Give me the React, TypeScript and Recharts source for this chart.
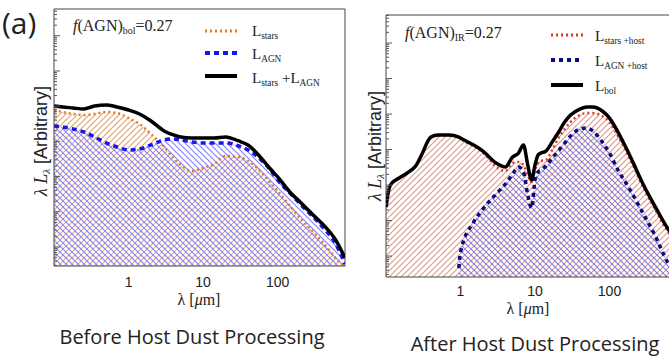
import { ComposedChart, Area, Line, XAxis, YAxis, ReferenceArea } from "recharts";

// wavelength grid (micron) and log10(lambda L_lambda), arbitrary units
const LEFT_LAMBDA = [0.1, 0.13, 0.18, 0.25, 0.35, 0.5, 0.7, 1, 1.4, 2, 3, 4, 5, 7, 10, 14, 20, 30, 40, 60, 80, 100, 150, 200, 300, 400, 600, 800];
const LEFT_TOTAL = [4.006, 3.977, 3.949, 3.92, 4.006, 4.034, 3.977, 3.892, 3.778, 3.58, 3.295, 3.182, 3.125, 3.097, 3.097, 3.097, 3.125, 3.011, 2.898, 2.528, 2.216, 1.989, 1.534, 1.278, 0.909, 0.653, 0.199, -0.313];
const LEFT_AGN = [3.438, 3.409, 3.352, 3.267, 3.125, 2.955, 2.841, 2.756, 2.784, 2.898, 3.04, 3.068, 3.04, 2.983, 2.955, 2.955, 2.955, 2.869, 2.756, 2.472, 2.188, 1.903, 1.506, 1.222, 0.852, 0.568, 0.085, -0.483];
const LEFT_STARS = [3.892, 3.835, 3.778, 3.75, 3.778, 3.835, 3.807, 3.665, 3.494, 3.21, 2.841, 2.528, 2.33, 2.159, 2.244, 2.358, 2.585, 2.557, 2.443, 2.131, 1.818, 1.591, 1.136, 0.824, 0.426, 0.142, -0.313, -0.55];

const RIGHT_LAMBDA = [0.1, 0.11, 0.12, 0.15, 0.2, 0.25, 0.3, 0.4, 0.5, 0.7, 0.95, 1, 1.5, 2, 3, 4, 5, 6, 7, 8, 9, 10, 11, 12, 14, 17, 20, 25, 30, 40, 50, 60, 80, 100, 130, 170, 200, 300, 400, 600, 700, 1000];
const RIGHT_BOL = [1.38, 1.9, 2.056, 2.197, 2.366, 2.535, 2.845, 3.352, 3.408, 3.408, 3.352, 3.324, 3.127, 2.958, 2.62, 2.507, 2.789, 2.901, 3.127, 2.563, 2.141, 2.563, 2.845, 2.901, 2.958, 3.211, 3.437, 3.775, 3.972, 4.141, 4.197, 4.197, 4.085, 3.887, 3.493, 3.014, 2.704, 1.915, 1.437, 0.789, 0.592, -0.056];
const RIGHT_STARS_HOST = [1.38, 1.9, 2.056, 2.197, 2.366, 2.535, 2.845, 3.352, 3.408, 3.408, 3.352, 3.31, 3.1, 2.92, 2.52, 2.394, 2.62, 2.648, 2.563, 2.282, 2.085, 2.423, 2.62, 2.676, 2.704, 2.986, 3.268, 3.577, 3.775, 3.972, 4.028, 4.028, 3.944, 3.775, 3.38, 2.93, 2.62, 1.831, 1.352, 0.704, 0.51, -0.141];
const RIGHT_AGN_HOST = [null, null, null, null, null, null, null, null, null, null, -0.338, 0.113, 0.958, 1.324, 1.746, 2.028, 2.31, 2.507, 2.366, 1.718, 1.352, 2.141, 2.366, 2.423, 2.535, 2.761, 2.93, 3.183, 3.38, 3.577, 3.606, 3.521, 3.211, 2.901, 2.423, 2.028, 1.775, 1.099, 0.62, -0.169, -0.394, null];

const X_TICKS = [1, 10, 100];
const LEFT_Y_DOMAIN = [-0.54, 6.76];
const RIGHT_Y_DOMAIN = [-0.59, 6.79];

const leftRows = LEFT_LAMBDA.map((lam, i) => ({
  lam,
  stars: LEFT_STARS[i],
  agn: LEFT_AGN[i],
  total: LEFT_TOTAL[i],
}));

const rightRows = RIGHT_LAMBDA.map((lam, i) => ({
  lam,
  starsHost: RIGHT_STARS_HOST[i],
  agnHost: RIGHT_AGN_HOST[i],
  bol: RIGHT_BOL[i],
}));

// major + minor log ticks inside a domain
function logTicks([min, max]: number[]) {
  const out: number[] = [];
  for (let k = -1; k <= 7; k++) {
    for (let m = 1; m <= 9; m++) {
      const v = k + Math.log10(m);
      if (v >= min && v <= max) out.push(v);
    }
  }
  return out;
}

function InnerTick(props: any) {
  const { x, y, payload } = props;
  const major = Math.abs(payload.value - Math.round(payload.value)) < 1e-6;
  return <line x1={x} x2={x + (major ? 6 : 3)} y1={y} y2={y} stroke="#555" strokeWidth={1} />;
}

const SERIF = "'Liberation Serif', 'DejaVu Serif', serif";
const SANS = "'Liberation Sans', Arial, sans-serif";
const OPEN = "'Open Sans', sans-serif";
const tickStyle = { fill: "#222", fontSize: 14, fontFamily: SANS };

function Sub({ children }: { children: any }) {
  return (
    <span style={{ fontSize: "0.62em", position: "relative", top: "0.3em", lineHeight: 1 }}>{children}</span>
  );
}

function Sample({ left, top, color, width, dash }: any) {
  return (
    <svg style={{ position: "absolute", left, top: top - 5 }} width={34} height={10}>
      <line x1={1} x2={33} y1={5} y2={5} stroke={color} strokeWidth={width} strokeDasharray={dash} />
    </svg>
  );
}

function Txt({ left, top, size, children, style }: any) {
  return (
    <div
      style={{
        position: "absolute",
        left,
        top,
        fontSize: size,
        lineHeight: 1,
        whiteSpace: "nowrap",
        color: "#222",
        fontFamily: SERIF,
        ...style,
      }}
    >
      {children}
    </div>
  );
}

// hatch tiles; "/" when forward, "\" otherwise
function Hatch({ id, color, forward }: { id: string; color: string; forward: boolean }) {
  const segs = forward
    ? [[-1, 1, 1, -1], [0, 6, 6, 0], [5, 7, 7, 5]]
    : [[-1, 5, 1, 7], [0, 0, 6, 6], [5, -1, 7, 1]];
  return (
    <pattern id={id} patternUnits="userSpaceOnUse" width={6} height={6}>
      {segs.map((s, i) => (
        <line key={i} x1={s[0]} y1={s[1]} x2={s[2]} y2={s[3]} style={{ stroke: color, strokeWidth: 1.1 }} />
      ))}
    </pattern>
  );
}

function Patterns() {
  return (
    <svg width={0} height={0} style={{ position: "absolute" }}>
      <defs>
        <Hatch id="hatchOrange" color="#f0a050" forward />
        <Hatch id="hatchBlue" color="#8080f0" forward={false} />
        <Hatch id="hatchRed" color="#ec8f7e" forward />
        <Hatch id="hatchNavy" color="#7c7cd0" forward={false} />
      </defs>
    </svg>
  );
}

function LeftPanel() {
  return (
    <ComposedChart width={360} height={300} margin={{ top: 9, right: 15, bottom: 0, left: 0 }} data={leftRows}>
      <XAxis
        type="number"
        dataKey="lam"
        scale="log"
        domain={[0.1, 800]}
        allowDataOverflow
        ticks={X_TICKS}
        interval={0}
        tickLine={false}
        axisLine={false}
        tickSize={0}
        tickMargin={11}
        tick={tickStyle}
        height={34}
      />
      <YAxis
        type="number"
        domain={LEFT_Y_DOMAIN}
        allowDataOverflow
        ticks={logTicks(LEFT_Y_DOMAIN)}
        interval={0}
        tickLine={false}
        axisLine={false}
        tickSize={0}
        tickMargin={0}
        tick={<InnerTick />}
        width={54}
      />
      <Area type="monotone" dataKey="stars" stroke="none" fill="url(#hatchOrange)" fillOpacity={1} baseValue="dataMin" isAnimationActive={false} />
      <Area type="monotone" dataKey="agn" stroke="none" fill="url(#hatchBlue)" fillOpacity={1} baseValue="dataMin" isAnimationActive={false} />
      <Line type="monotone" dataKey="stars" stroke="#e07a24" strokeWidth={2.5} strokeDasharray="2 3" dot={false} isAnimationActive={false} />
      <Line type="monotone" dataKey="agn" stroke="#1515f0" strokeWidth={3.5} strokeDasharray="5 4" dot={false} isAnimationActive={false} />
      <Line type="monotone" dataKey="total" stroke="#000" strokeWidth={3.5} dot={false} isAnimationActive={false} />
      <ReferenceArea x1={0.1} x2={800} y1={LEFT_Y_DOMAIN[0]} y2={LEFT_Y_DOMAIN[1]} fill="none" stroke="#444" strokeWidth={1} />
    </ComposedChart>
  );
}

function RightPanel() {
  return (
    <ComposedChart width={359} height={311} margin={{ top: 15, right: 5, bottom: 0, left: 0 }} data={rightRows}>
      <XAxis
        type="number"
        dataKey="lam"
        scale="log"
        domain={[0.1, 1000]}
        allowDataOverflow
        ticks={X_TICKS}
        interval={0}
        tickLine={false}
        axisLine={false}
        tickSize={0}
        tickMargin={9}
        tick={tickStyle}
        height={34}
      />
      <YAxis
        type="number"
        domain={RIGHT_Y_DOMAIN}
        allowDataOverflow
        ticks={logTicks(RIGHT_Y_DOMAIN)}
        interval={0}
        tickLine={false}
        axisLine={false}
        tickSize={0}
        tickMargin={0}
        tick={<InnerTick />}
        width={56}
      />
      <Area type="monotone" dataKey="starsHost" stroke="none" fill="url(#hatchRed)" fillOpacity={1} baseValue="dataMin" isAnimationActive={false} />
      <Area type="monotone" dataKey="agnHost" stroke="none" fill="url(#hatchNavy)" fillOpacity={1} baseValue="dataMin" isAnimationActive={false} />
      <Line type="monotone" dataKey="starsHost" stroke="#e4391f" strokeWidth={2.5} strokeDasharray="2 3" dot={false} isAnimationActive={false} />
      <Line type="monotone" dataKey="agnHost" stroke="#0a0a82" strokeWidth={3.5} strokeDasharray="4 4" dot={false} isAnimationActive={false} />
      <Line type="monotone" dataKey="bol" stroke="#000" strokeWidth={3.5} dot={false} isAnimationActive={false} />
      <ReferenceArea x1={0.1} x2={1000} y1={RIGHT_Y_DOMAIN[0]} y2={RIGHT_Y_DOMAIN[1]} fill="none" stroke="#444" strokeWidth={1} />
    </ComposedChart>
  );
}

function YLabel({ cx, cy }: { cx: number; cy: number }) {
  return (
    <div
      style={{
        position: "absolute",
        left: cx,
        top: cy,
        transform: "translate(-50%, -50%) rotate(-90deg)",
        whiteSpace: "nowrap",
        fontSize: 18,
        lineHeight: 1,
        color: "#222",
        fontFamily: SANS,
      }}
    >
      <span style={{ fontFamily: SERIF, fontStyle: "italic" }}>
        λ L<Sub>λ</Sub>
      </span>{" "}
      [Arbitrary]
    </div>
  );
}

export default function App() {
  return (
    <div style={{ position: "absolute", left: 0, top: 0, width: 669, height: 358, overflow: "hidden", background: "#fff" }}>
      <Patterns />
      <div style={{ position: "absolute", left: 0, top: 0 }}>
        <LeftPanel />
      </div>
      <div style={{ position: "absolute", left: 330, top: 0 }}>
        <RightPanel />
      </div>

      <Txt left={2} top={8} size={30} style={{ fontFamily: OPEN }}>(a)</Txt>
      <YLabel cx={41} cy={141} />
      <YLabel cx={375} cy={146} />

      {/* left legend */}
      <Txt left={73} top={17.6} size={16}>
        <i>f</i>(AGN)<Sub>bol</Sub>=0.27
      </Txt>
      <Sample left={204} top={31} color="#e07a24" width={3} dash="2 3" />
      <Sample left={204} top={53} color="#1515f0" width={4} dash="5 4" />
      <Sample left={204} top={76} color="#000" width={4} />
      <Txt left={252} top={24.4} size={15}>
        L<Sub>stars</Sub>
      </Txt>
      <Txt left={252} top={47.4} size={15}>
        L<Sub>AGN</Sub>
      </Txt>
      <Txt left={252} top={71.4} size={15}>
        L<Sub>stars</Sub> +L<Sub>AGN</Sub>
      </Txt>

      {/* right legend */}
      <Txt left={405} top={24.6} size={16}>
        <i>f</i>(AGN)<Sub>IR</Sub>=0.27
      </Txt>
      <Sample left={550} top={35} color="#e4391f" width={3} dash="2 3" />
      <Sample left={550} top={60} color="#0a0a82" width={4} dash="4 4" />
      <Sample left={550} top={85} color="#000" width={4} />
      <Txt left={595} top={29.4} size={15}>
        L<Sub>stars +host</Sub>
      </Txt>
      <Txt left={595} top={54.4} size={15}>
        L<Sub>AGN +host</Sub>
      </Txt>
      <Txt left={595} top={79.4} size={15}>
        L<Sub>bol</Sub>
      </Txt>

      {/* x labels */}
      <Txt left={199} top={291.6} size={16} style={{ transform: "translateX(-50%)" }}>
        λ [<i>μ</i>m]
      </Txt>
      <Txt left={528} top={300.5} size={16} style={{ transform: "translateX(-50%)" }}>
        λ [<i>μ</i>m]
      </Txt>

      {/* panel titles */}
      <Txt left={192} top={327} size={20} style={{ transform: "translateX(-50%)", fontFamily: OPEN }}>
        Before Host Dust Processing
      </Txt>
      <Txt left={535} top={333.5} size={20} style={{ transform: "translateX(-50%)", fontFamily: OPEN }}>
        After Host Dust Processing
      </Txt>
    </div>
  );
}
